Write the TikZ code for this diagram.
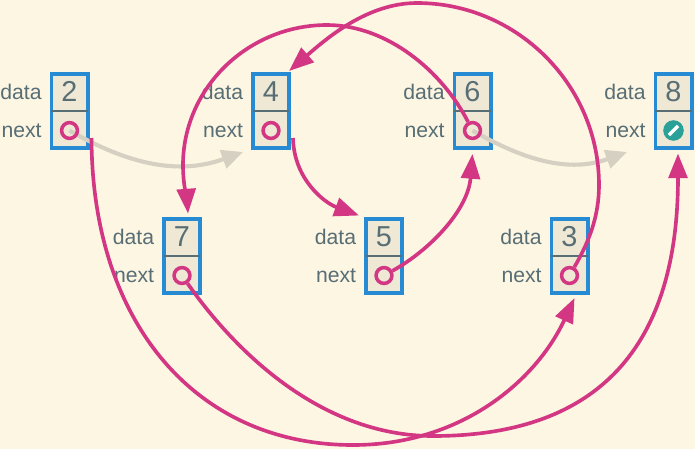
\documentclass[tikz,border=0pt]{standalone}
\usepackage{fontspec}
\setmainfont{Liberation Sans}
\usetikzlibrary{arrows.meta,calc}

\definecolor{bgcream}{HTML}{FDF6E3}
\definecolor{cellfill}{HTML}{EEE8D5}
\definecolor{boxblue}{HTML}{268BD2}
\definecolor{txtgray}{HTML}{586E75}
\definecolor{ptrpink}{HTML}{D33682}
\definecolor{nullteal}{HTML}{2AA198}
\definecolor{ghostgray}{HTML}{D6D0C3}

\tikzset{
  cell/.style={draw=boxblue, fill=cellfill, line width=3.2pt, minimum width=30.8pt, minimum height=63.1pt, inner sep=0pt},
  divider/.style={draw=txtgray, line width=0.9pt, shorten <=1.6pt, shorten >=1.6pt},
  value/.style={text=txtgray, font=\fontsize{24.5}{24.5}\selectfont, inner sep=0pt},
  field/.style={text=txtgray, font=\fontsize{18}{18}\selectfont, inner sep=0pt, anchor=east},
  ring/.style={circle, draw=ptrpink, line width=3pt, minimum size=13.5pt, inner sep=0pt},
  nullmark/.style={circle, fill=nullteal, minimum size=17.5pt, inner sep=0pt},
  link/.style={draw=ptrpink, line width=3.1pt, -{Triangle[length=21pt,width=16pt]}},
  ghost/.style={draw=ghostgray, line width=3.5pt, -{Triangle[length=18pt,width=16pt]}},
}

\begin{document}
\begin{tikzpicture}[x=0.85pt, y=0.85pt]
  \fill[bgcream] (0,0) rectangle (695,-449);
  \useasboundingbox (0,0) rectangle (695,-449);

  % list cells
  \foreach \n/\x/\y in {2/69.5/111, 4/271/111, 6/472.5/111, 8/673.5/111, 7/182/256, 5/384/256, 3/569.5/256} {
    \node[cell] (b\n) at (\x,-\y) {};
    \draw[divider] (b\n.west) -- (b\n.east);
    \node[value] (v\n) at (\x,-\y+19.5) {\n};
    \coordinate (p\n) at (\x,-\y-19.5);
    \node[field, xshift=-6.5pt] at (b\n.west |- v\n) {data};
    \node[field, xshift=-6.5pt] at (b\n.west |- p\n) {next};
  }

  % old order
  \coordinate (g4) at (243,-152);
  \coordinate (g8) at (627,-152);
  \draw[ghost] (p2) to[out=-30, in=200] (g4);
  \draw[ghost] (p6) to[out=-30, in=200] (g8);

  \foreach \n in {2,4,6,7,5,3}
    \node[ring] (c\n) at (p\n) {};
  \node[nullmark] (c8) at (p8) {};
  \draw[white, line width=2.8pt, shorten <=3.4pt, shorten >=3.4pt] (c8.225) -- (c8.45);

  % new order
  \draw[link] ($(b2.south east)+(2,12)$) .. controls (92,-323) and (196,-445) .. (353,-445)
    .. controls (463,-445) and (537,-379) .. ($(b3.south)+(5,-3)$);
  \draw[link] (c3) .. controls (590,-240) and (599,-215) .. (599,-185)
    .. controls (599,-85) and (517,-3) .. (417,-3)
    .. controls (367,-3) and (326,-39) .. ($(b4.north east)+(-2,1)$);
  \draw[link] ($(b4.south east)+(2,12)$) .. controls (294,-180) and (325,-203) .. ($(b5.north west)+(-5,1.5)$);
  \draw[link] (c5) .. controls (430,-250) and (468,-210) .. ($(b6.south)+(0,-4)$);
  \draw[link] (c6) .. controls (442,-71) and (387,-25) .. (327,-25)
    .. controls (248,-25) and (183,-88) .. (183,-165)
    .. controls (183,-185) and (187,-200) .. ($(b7.north)+(6,3.5)$);
  \draw[link] (c7) .. controls (237,-354) and (323,-436) .. (433,-436)
    .. controls (600,-436) and (678,-345) .. ($(b8.south)+(4.5,-3.5)$);
\end{tikzpicture}
\end{document}
